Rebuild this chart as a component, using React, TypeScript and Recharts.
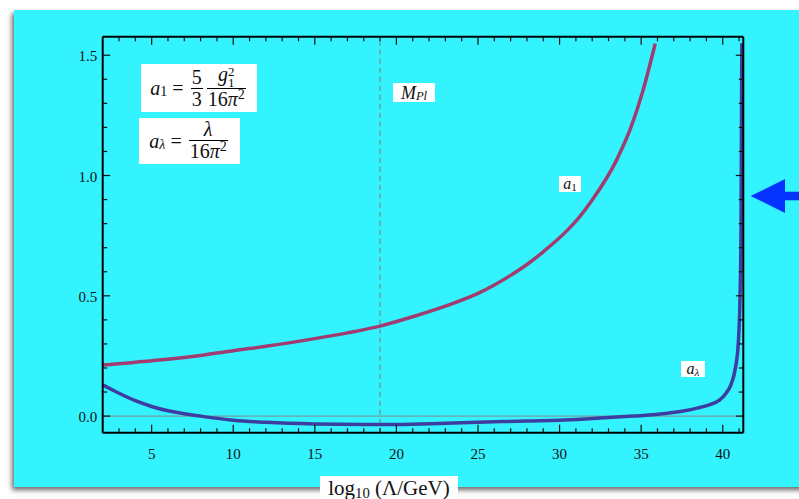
import React from 'react';
import { LineChart, Line, XAxis, YAxis, ReferenceLine } from 'recharts';

const A1_T = [2, 5, 8, 10, 12, 15, 17, 19, 21, 23, 25, 26, 27, 28, 29, 30.5, 31.2, 32, 33.5, 34.4, 35.1, 35.86];
const A1_V = [0.212, 0.23, 0.252, 0.272, 0.29, 0.322, 0.346, 0.374, 0.413, 0.457, 0.51, 0.545, 0.585, 0.63, 0.683, 0.774, 0.826, 0.898, 1.065, 1.205, 1.35, 1.548];

const AL_T = [2, 3, 4, 5, 6, 7, 8, 10, 12, 15, 18, 20, 23, 26, 28, 30, 32, 34, 35.5, 36.5, 37.5, 38.5, 39.2, 39.8, 40.2, 40.5, 40.75, 40.95, 41.06, 41.12, 41.17];
const AL_V = [0.13, 0.095, 0.064, 0.04, 0.022, 0.01, 0.0, -0.017, -0.026, -0.033, -0.035, -0.035, -0.03, -0.024, -0.02, -0.017, -0.01, -0.002, 0.005, 0.011, 0.02, 0.034, 0.048, 0.066, 0.095, 0.13, 0.19, 0.3, 0.5, 0.77, 1.55];

const X_TICKS = [3, 4, 5, 6, 7, 8, 9, 10, 11, 12, 13, 14, 15, 16, 17, 18, 19, 20, 21, 22, 23, 24, 25, 26, 27, 28, 29, 30, 31, 32, 33, 34, 35, 36, 37, 38, 39, 40, 41];
const X_MAJOR = [5, 10, 15, 20, 25, 30, 35, 40];
const Y_TICKS = [0, 0.1, 0.2, 0.3, 0.4, 0.5, 0.6, 0.7, 0.8, 0.9, 1.0, 1.1, 1.2, 1.3, 1.4, 1.5];
const Y_MAJOR = [0, 0.5, 1.0, 1.5];
const M_PL = 19;

const a1Data = A1_T.map((t, i) => ({ t, v: A1_V[i] }));
const alData = AL_T.map((t, i) => ({ t, v: AL_V[i] }));

const SERIF = "'Liberation Serif', 'DejaVu Serif', serif";
const TICK_COLOR = '#111';

const isMajorX = (v: number) => X_MAJOR.includes(v);
const isMajorY = (v: number) => Y_MAJOR.some(m => Math.abs(m - v) < 1e-6);

/* ——— inward ticks on all four sides ——— */
function BottomTick({ x, y, payload }: any) {
  const major = isMajorX(payload.value);
  return (
    <g>
      <line x1={x} y1={y} x2={x} y2={y - (major ? 8 : 4.5)} stroke={TICK_COLOR} strokeWidth={1.2} />
      {major && (
        <text x={x} y={y + 26} textAnchor="middle" fontFamily={SERIF} fontSize={15} fill="#111">
          {payload.value}
        </text>
      )}
    </g>
  );
}

function TopTick({ x, y, payload }: any) {
  const major = isMajorX(payload.value);
  return <line x1={x} y1={y} x2={x} y2={y + (major ? 8 : 4.5)} stroke={TICK_COLOR} strokeWidth={1.2} />;
}

function LeftTick({ x, y, payload }: any) {
  const major = isMajorY(payload.value);
  return (
    <g>
      <line x1={x} y1={y} x2={x + (major ? 7.5 : 4.5)} y2={y} stroke={TICK_COLOR} strokeWidth={1.2} />
      {major && (
        <text x={x - 5.5} y={y + 6} textAnchor="end" fontFamily={SERIF} fontSize={15} fill="#111">
          {payload.value.toFixed(1)}
        </text>
      )}
    </g>
  );
}

function RightTick({ x, y, payload }: any) {
  const major = isMajorY(payload.value);
  return <line x1={x} y1={y} x2={x - (major ? 7.5 : 4.5)} y2={y} stroke={TICK_COLOR} strokeWidth={1.2} />;
}

/* ——— little math helpers for the white label boxes ——— */
function Frac({ num, den }: { num: React.ReactNode; den: React.ReactNode }) {
  return (
    <span style={{ display: 'inline-flex', flexDirection: 'column', alignItems: 'center', verticalAlign: 'middle', margin: '0 2px' }}>
      <span style={{ lineHeight: '21px', padding: '0 1px' }}>{num}</span>
      <span style={{ borderTop: '1px solid #000', alignSelf: 'stretch' }} />
      <span style={{ lineHeight: '21px', padding: '0 1px' }}>{den}</span>
    </span>
  );
}

const I = ({ children }: { children: React.ReactNode }) => (
  <span style={{ fontStyle: 'italic', fontFamily: SERIF }}>{children}</span>
);
const Sub = ({ children }: { children: React.ReactNode }) => (
  <span style={{ fontSize: '0.7em', position: 'relative', top: '0.3em' }}>{children}</span>
);
const Sup = ({ children }: { children: React.ReactNode }) => (
  <span style={{ fontSize: '0.7em', position: 'relative', top: '-0.45em' }}>{children}</span>
);

function Box({ left, top, width, height, fontSize = 20, children }: any) {
  return (
    <div
      style={{
        position: 'absolute', left, top, width, height, background: '#fff',
        display: 'flex', alignItems: 'center', justifyContent: 'center',
        fontFamily: SERIF, fontSize, lineHeight: 1, color: '#111', whiteSpace: 'nowrap', overflow: 'hidden',
      }}
    >
      {children}
    </div>
  );
}

export default function App() {
  return (
    <div style={{ position: 'fixed', left: 0, top: 0, width: 799, height: 499, background: '#fff', overflow: 'hidden' }}>
      {/* cyan slide panel with drop shadow */}
      <div
        style={{
          position: 'absolute', left: 14, top: 10, width: 800, height: 477, background: '#33F3FF',
          boxShadow: '-2px 3px 5px rgba(0,0,0,0.6)',
        }}
      />

      <div style={{ position: 'absolute', left: 0, top: 0 }}>
        <LineChart width={799} height={499} margin={{ top: 26.7, right: 45.7, bottom: 36.3, left: 42.7 }}>
          <XAxis
            dataKey="t" type="number" domain={[2, 41.26]} allowDataOverflow ticks={X_TICKS} interval={0}
            height={30} tickSize={0} tickMargin={0} tick={<BottomTick />}
            axisLine={{ stroke: '#000', strokeWidth: 2 }}
          />
          <XAxis
            xAxisId="top" orientation="top" dataKey="t" type="number" domain={[2, 41.26]} allowDataOverflow
            ticks={X_TICKS} interval={0} height={10} tickSize={0} tickMargin={0} tick={<TopTick />}
            axisLine={{ stroke: '#000', strokeWidth: 2 }}
          />
          <YAxis
            type="number" domain={[-0.069, 1.577]} allowDataOverflow ticks={Y_TICKS} interval={0}
            width={60} tickSize={0} tickMargin={0} tick={<LeftTick />}
            axisLine={{ stroke: '#000', strokeWidth: 2 }}
          />
          <YAxis
            yAxisId="right" orientation="right" type="number" domain={[-0.069, 1.577]} allowDataOverflow
            ticks={Y_TICKS} interval={0} width={10} tickSize={0} tickMargin={0} tick={<RightTick />}
            axisLine={{ stroke: '#000', strokeWidth: 2 }}
          />
          <ReferenceLine y={0} stroke="#8a8a8a" strokeWidth={1} />
          <ReferenceLine x={M_PL} stroke="#6A9FA6" strokeWidth={1.5} strokeDasharray="5 4" />
          <Line
            data={a1Data} dataKey="v" type="monotone" stroke="#A03C70" strokeWidth={3.5}
            dot={false} isAnimationActive={false}
          />
          <Line
            data={alData} dataKey="v" type="monotone" stroke="#3D3DA0" strokeWidth={3.5}
            dot={false} isAnimationActive={false}
          />
        </LineChart>
      </div>

      {/* formula boxes */}
      <Box left={141} top={64} width={116} height={48}>
        <I>a</I><Sub>1</Sub>&nbsp;=&nbsp;
        <Frac num="5" den="3" />
        <Frac
          num={<><I>g</I><span style={{ display: 'inline-flex', flexDirection: 'column', fontSize: '0.65em', lineHeight: '0.85em', verticalAlign: 'middle' }}><span>2</span><span>1</span></span></>}
          den={<>16<I>π</I><Sup>2</Sup></>}
        />
      </Box>
      <Box left={139} top={118} width={101} height={46}>
        <I>a</I><Sub><I>λ</I></Sub>&nbsp;=&nbsp;
        <Frac num={<I>λ</I>} den={<>16<I>π</I><Sup>2</Sup></>} />
      </Box>

      {/* curve / line labels */}
      <Box left={393} top={83} width={42} height={19} fontSize={18}>
        <I>M</I><Sub><I>Pl</I></Sub>
      </Box>
      <Box left={559} top={176} width={22} height={16} fontSize={16}>
        <I>a</I><Sub>1</Sub>
      </Box>
      <Box left={681} top={361} width={24} height={16} fontSize={16}>
        <I>a</I><Sub><I>λ</I></Sub>
      </Box>

      {/* x axis title */}
      <Box left={320} top={476} width={138} height={25} fontSize={21}>
        log<Sub>10</Sub>&nbsp;(Λ/GeV)
      </Box>

      {/* blue pointer arrow */}
      <svg width={799} height={499} style={{ position: 'absolute', left: 0, top: 0, pointerEvents: 'none' }}>
        <polygon
          points="750.7,196 785,179 785,191.7 799,191.7 799,200.3 785,200.3 785,213"
          fill="#0533FF"
        />
      </svg>
    </div>
  );
}
